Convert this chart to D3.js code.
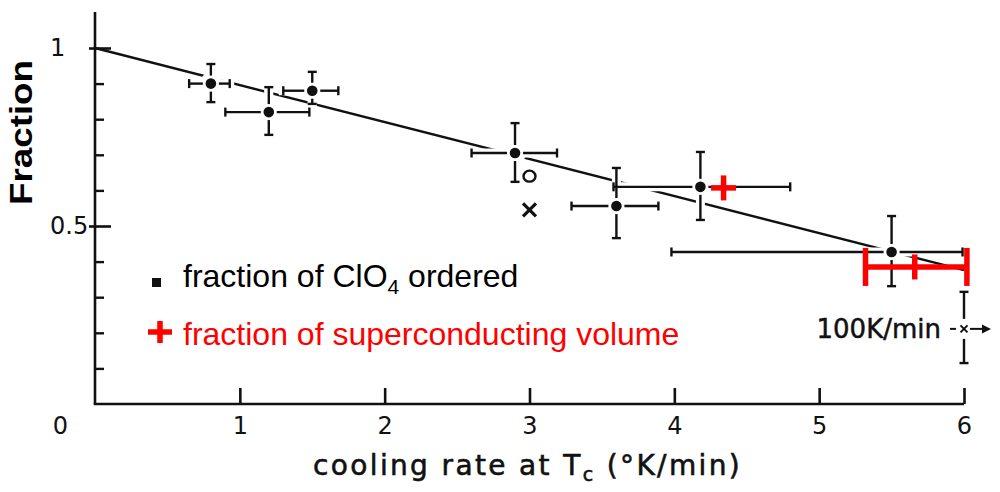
<!DOCTYPE html>
<html><head><meta charset="utf-8">
<script src="https://cdn.jsdelivr.net/npm/d3@7"></script>
<style>html,body{margin:0;padding:0;background:#fff;} svg{display:block;}</style>
</head><body>
<svg id="chart" width="1000" height="492"></svg>
<script>
// ---- data ----
const ordX   = [0.80, 1.20, 1.50, 2.90, 3.60, 4.18, 5.50];
const ordY   = [0.900, 0.820, 0.880, 0.705, 0.556, 0.610, 0.427];
const ordXLo = [0.65, 0.90, 1.30, 2.60, 3.29, 3.58, 3.98];
const ordXHi = [0.93, 1.48, 1.68, 3.19, 3.89, 4.80, 5.99];
const ordYLo = [0.848, 0.756, 0.843, 0.624, 0.466, 0.517, 0.331];
const ordYHi = [0.955, 0.890, 0.933, 0.789, 0.663, 0.708, 0.528];

const fastX = [6.0], fastY = [0.211], fastYLo = [0.115], fastYHi = [0.315];
const fastLabel = "100K/min";

const openX = [3.0], openY = [0.640];     // "o" marker
const crossX = [3.0], crossY = [0.545];   // "x" marker

const scX   = [4.34, 5.66];
const scY   = [0.607, 0.385];
const scXLo = [null, 5.32];
const scXHi = [null, 6.02];

const fitX = [0, 6];
const fitY = [1.0, 0.376];

const xTickValues = [0, 1, 2, 3, 4, 5, 6];
const yMinorTicks = [0.1, 0.2, 0.3, 0.4, 0.6, 0.7, 0.8, 0.9];
const yMajorTicks = [0.5, 1.0];
const yTickLabels = ["0.5", "1"];

const legendTexts = ["fraction of ClO", "4", " ordered", "fraction of superconducting volume"];
const xTitle = ["cooling rate at T", "c", " (°K/min)"];
const yTitle = "Fraction";

// ---- drawing ----
const svg = d3.select("#chart");
const x = d3.scaleLinear().domain([0, 6]).range([95, 964]);
const y = d3.scaleLinear().domain([0, 1]).range([404, 48]);
const ink = "#111";
const RED = "#ff0000";
const tickFont = "'DejaVu Sans', Verdana, sans-serif";

// axes lines
svg.append("line").attr("x1", x(0)).attr("x2", x(0)).attr("y1", 12).attr("y2", y(0))
  .attr("stroke", ink).attr("stroke-width", 2.6);
svg.append("line").attr("x1", x(0) - 1.3).attr("x2", x(6)).attr("y1", y(0)).attr("y2", y(0))
  .attr("stroke", ink).attr("stroke-width", 2.6);

// y minor ticks
const gyMinor = svg.append("g").attr("transform", `translate(${x(0)},0)`)
  .call(d3.axisRight(y).tickValues(yMinorTicks).tickSize(9).tickSizeOuter(0).tickFormat(""));
gyMinor.select(".domain").remove();
gyMinor.selectAll("line").attr("stroke", ink).attr("stroke-width", 2.4);

// y major ticks (cross the axis)
const gyMajor = svg.append("g").attr("transform", `translate(${x(0) + 16},0)`)
  .call(d3.axisLeft(y).tickValues(yMajorTicks).tickSize(22).tickSizeOuter(0)
    .tickFormat((d, i) => yTickLabels[i]));
gyMajor.select(".domain").remove();
gyMajor.selectAll("line").attr("stroke", ink).attr("stroke-width", 2.6);
gyMajor.selectAll("text").attr("x", 50 - (x(0) + 16)).attr("text-anchor", "start")
  .attr("dy", "0.3em").attr("font-family", tickFont).attr("font-size", 24).attr("fill", ink);

// x ticks
const gx = svg.append("g").attr("transform", `translate(0,${y(0)})`)
  .call(d3.axisBottom(x).tickValues(xTickValues).tickSize(-16).tickSizeOuter(0).tickPadding(13)
    .tickFormat(d3.format("d")));
gx.select(".domain").remove();
gx.selectAll("line").attr("stroke", ink).attr("stroke-width", 2.6);
gx.selectAll(".tick").filter(d => d === 0).select("line").remove();
gx.selectAll("text").attr("font-family", tickFont).attr("font-size", 24).attr("fill", ink);
gx.selectAll(".tick").filter(d => d === 0).select("text").attr("x", -35);

// fit line
svg.append("path")
  .datum(fitX.map((d, i) => [d, fitY[i]]))
  .attr("d", d3.line().x(d => x(d[0])).y(d => y(d[1])))
  .attr("fill", "none").attr("stroke", ink).attr("stroke-width", 2.4);

// error bar helper
const ordData = ordX.map((d, i) => ({x: d, y: ordY[i], xl: ordXLo[i], xh: ordXHi[i], yl: ordYLo[i], yh: ordYHi[i]}));
const fastData = fastX.map((d, i) => ({x: d, y: fastY[i], xl: null, xh: null, yl: fastYLo[i], yh: fastYHi[i]}));

function barSegments(d, gap) {
  const cx = x(d.x), cy = y(d.y), segs = [];
  if (d.xl != null) segs.push([x(d.xl), cy, cx - gap, cy], [x(d.xl), cy - 4.5, x(d.xl), cy + 4.5]);
  if (d.xh != null) segs.push([cx + gap, cy, x(d.xh), cy], [x(d.xh), cy - 4.5, x(d.xh), cy + 4.5]);
  if (d.yh != null) segs.push([cx, y(d.yh), cx, cy - gap], [cx - 4.5, y(d.yh), cx + 4.5, y(d.yh)]);
  if (d.yl != null) segs.push([cx, cy + gap, cx, y(d.yl)], [cx - 4.5, y(d.yl), cx + 4.5, y(d.yl)]);
  return segs;
}
const allSegs = ordData.flatMap(d => barSegments(d, 8)).concat(fastData.flatMap(d => barSegments(d, 10)));

// white halo to break the fit line under the markers
svg.append("g").selectAll("line").data(allSegs).join("line")
  .attr("x1", s => s[0]).attr("y1", s => s[1]).attr("x2", s => s[2]).attr("y2", s => s[3])
  .attr("stroke", "#fff").attr("stroke-width", 9);
svg.append("g").selectAll("circle").data(ordData).join("circle")
  .attr("cx", d => x(d.x)).attr("cy", d => y(d.y)).attr("r", 11).attr("fill", "#fff");

svg.append("g").selectAll("line").data(allSegs).join("line")
  .attr("x1", s => s[0]).attr("y1", s => s[1]).attr("x2", s => s[2]).attr("y2", s => s[3])
  .attr("stroke", ink).attr("stroke-width", 2.4);
svg.append("g").selectAll("circle").data(ordData).join("circle")
  .attr("cx", d => x(d.x)).attr("cy", d => y(d.y)).attr("r", 5.3).attr("fill", ink);

// open circle & cross markers
svg.append("g").selectAll("ellipse").data(openX).join("ellipse")
  .attr("cx", (d, i) => x(d)).attr("cy", (d, i) => y(openY[i])).attr("rx", 6).attr("ry", 5.5)
  .attr("fill", "none").attr("stroke", ink).attr("stroke-width", 2.4);
svg.append("g").selectAll("path").data(crossX).join("path")
  .attr("d", (d, i) => { const cx = x(d), cy = y(crossY[i]), r = 6.5;
    return `M${cx - r},${cy - r}L${cx + r},${cy + r}M${cx - r},${cy + r}L${cx + r},${cy - r}`; })
  .attr("stroke", ink).attr("stroke-width", 3.2).attr("fill", "none");

// fast-cooling point: small x, arrow, label
fastData.forEach(d => {
  const cx = x(d.x), cy = y(d.y), r = 3.5;
  svg.append("path").attr("d", `M${cx - r},${cy - r}L${cx + r},${cy + r}M${cx - r},${cy + r}L${cx + r},${cy - r}`)
    .attr("stroke", ink).attr("stroke-width", 2).attr("fill", "none");
  svg.append("line").attr("x1", cx - 14).attr("x2", cx - 8).attr("y1", cy).attr("y2", cy)
    .attr("stroke", ink).attr("stroke-width", 2);
  svg.append("line").attr("x1", cx + 6).attr("x2", cx + 22).attr("y1", cy).attr("y2", cy)
    .attr("stroke", ink).attr("stroke-width", 2);
  svg.append("path").attr("d", `M${cx + 27},${cy}L${cx + 18},${cy - 4.5}L${cx + 18},${cy + 4.5}Z`).attr("fill", ink);
  svg.append("text").attr("x", cx - 23).attr("y", cy + 9).attr("text-anchor", "end")
    .attr("font-family", tickFont).attr("font-size", 26).attr("stroke", ink).attr("stroke-width", 0.5)
    .attr("fill", ink).text(fastLabel);
});

// red superconducting markers
const scData = scX.map((d, i) => ({x: d, y: scY[i], xl: scXLo[i], xh: scXHi[i]}));
const gRed = svg.append("g").attr("stroke", RED).attr("stroke-width", 5.5).attr("fill", "none");
scData.forEach(d => {
  const cx = x(d.x), cy = y(d.y), a = 12.5;
  if (d.xl != null) {
    gRed.append("line").attr("x1", x(d.xl)).attr("x2", x(d.xh)).attr("y1", cy).attr("y2", cy);
    gRed.append("line").attr("x1", x(d.xl)).attr("x2", x(d.xl)).attr("y1", cy - 19).attr("y2", cy + 19);
    gRed.append("line").attr("x1", x(d.xh)).attr("x2", x(d.xh)).attr("y1", cy - 19).attr("y2", cy + 19);
    gRed.append("line").attr("x1", cx).attr("x2", cx).attr("y1", cy - a).attr("y2", cy + a);
  } else {
    gRed.append("line").attr("x1", cx - a).attr("x2", cx + a).attr("y1", cy).attr("y2", cy);
    gRed.append("line").attr("x1", cx).attr("x2", cx).attr("y1", cy - a).attr("y2", cy + a);
  }
});

// legend
const legFont = "'Liberation Sans', Arial, sans-serif";
svg.append("rect").attr("x", 152).attr("y", 278).attr("width", 9).attr("height", 9).attr("fill", ink);
const t1 = svg.append("text").attr("x", 183).attr("y", 287).attr("font-family", legFont)
  .attr("font-size", 32).attr("fill", "#000");
t1.append("tspan").text(legendTexts[0]);
t1.append("tspan").attr("font-size", 21).attr("dy", 7).text(legendTexts[1]);
t1.append("tspan").attr("dy", -7).text(legendTexts[2]);
svg.append("line").attr("x1", 148).attr("x2", 172).attr("y1", 332).attr("y2", 332)
  .attr("stroke", RED).attr("stroke-width", 5.5);
svg.append("line").attr("x1", 160).attr("x2", 160).attr("y1", 321).attr("y2", 343)
  .attr("stroke", RED).attr("stroke-width", 5.5);
svg.append("text").attr("x", 183).attr("y", 345).attr("font-family", legFont)
  .attr("font-size", 32).attr("fill", RED).text(legendTexts[3]);

// x title
const xt = svg.append("text").attr("x", 313).attr("y", 475).attr("font-family", tickFont)
  .attr("font-size", 28).attr("fill", ink).attr("stroke", ink).attr("stroke-width", 0.6);
xt.append("tspan").text(xTitle[0]);
xt.append("tspan").attr("font-size", 19).attr("dy", 6).text(xTitle[1]);
xt.append("tspan").attr("dy", -6).text(xTitle[2]);
const natW = xt.node().getBBox().width;
const nChars = (xTitle[0] + xTitle[1] + xTitle[2]).length;
xt.attr("letter-spacing", ((429 - natW) / nChars).toFixed(2));

// y title
svg.append("text").attr("transform", "translate(32,132.5) rotate(-90)")
  .attr("text-anchor", "middle").attr("font-family", legFont).attr("font-weight", "bold")
  .attr("font-size", 31).attr("textLength", 145).attr("lengthAdjust", "spacingAndGlyphs")
  .attr("fill", "#000").text(yTitle);
</script>
</body></html>
